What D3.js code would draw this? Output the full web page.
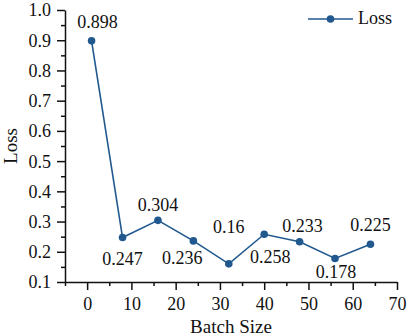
<!DOCTYPE html>
<html>
<head>
<meta charset="utf-8">
<script src="https://cdn.jsdelivr.net/npm/d3@7/dist/d3.min.js"></script>
<style>
  html, body { margin: 0; padding: 0; background: #fff; }
  svg { display: block; }
  text { font-family: "Liberation Serif", "Times New Roman", serif; fill: #111; }
</style>
</head>
<body>
<svg id="chart" width="408" height="336"></svg>
<script>
// ---- data ----
const batchSizes = [1, 8, 16, 24, 32, 40, 48, 56, 64];
const lossValues = [0.898, 0.247, 0.304, 0.236, 0.16, 0.258, 0.233, 0.178, 0.225];
const lossLabels = ["0.898", "0.247", "0.304", "0.236", "0.16", "0.258", "0.233", "0.178", "0.225"];
const xTickValues = [0, 10, 20, 30, 40, 50, 60, 70];
const yTickValues = [0.1, 0.2, 0.3, 0.4, 0.5, 0.6, 0.7, 0.8, 0.9, 1.0];
const seriesName = "Loss";
const xTitle = "Batch Size";
const yTitle = "Loss";

// ---- label placement (style, not data) ----
const labelDx = [6, 0, 0, -11, 0, 6, 3, 1, 0];
const labelDy = [-13, 27, -9, 23, -31, 29, -10, 20, -13];

const color = "#21598f";
const fontSize = 18;

const svg = d3.select("#chart");
const x = d3.scaleLinear().domain([-5, 70]).range([65, 397]);
const y = d3.scaleLinear().domain([0.1, 1.0]).range([282, 10]);

// minor ticks
const xMinor = d3.range(-5, 70, 10);
const yMinor = d3.range(0.15, 1.0, 0.1);

svg.append("g")
  .attr("transform", `translate(0,${y(0.1)})`)
  .call(d3.axisBottom(x).tickValues(xMinor).tickSize(4).tickFormat(""))
  .call(g => g.select(".domain").remove())
  .call(g => g.selectAll("line").attr("stroke", "#111").attr("stroke-width", 1.5));

svg.append("g")
  .attr("transform", `translate(${x(-5)},0)`)
  .call(d3.axisLeft(y).tickValues(yMinor).tickSize(4).tickFormat(""))
  .call(g => g.select(".domain").remove())
  .call(g => g.selectAll("line").attr("stroke", "#111").attr("stroke-width", 1.5));

svg.append("g")
  .attr("transform", `translate(0,${y(0.1)})`)
  .call(d3.axisBottom(x).tickValues(xTickValues).tickSize(8).tickSizeOuter(0).tickFormat(d3.format("d")))
  .call(g => g.select(".domain").attr("stroke", "#111").attr("stroke-width", 1.5))
  .call(g => g.selectAll("line").attr("stroke", "#111").attr("stroke-width", 1.5))
  .call(g => g.selectAll("text").attr("dy", null).attr("y", 28)
      .attr("font-family", "Liberation Serif").attr("font-size", fontSize).attr("fill", "#111"));

svg.append("g")
  .attr("transform", `translate(${x(-5)},0)`)
  .call(d3.axisLeft(y).tickValues(yTickValues).tickSize(8).tickSizeOuter(0).tickFormat(d3.format(".1f")))
  .call(g => g.select(".domain").attr("stroke", "#111").attr("stroke-width", 1.5))
  .call(g => g.selectAll("line").attr("stroke", "#111").attr("stroke-width", 1.5))
  .call(g => g.selectAll("text").attr("x", -14).attr("dy", "0.33em")
      .attr("font-family", "Liberation Serif").attr("font-size", fontSize).attr("fill", "#111"));

// titles
svg.append("text")
  .attr("x", (x(-5) + x(70)) / 2).attr("y", 333)
  .attr("text-anchor", "middle").attr("font-size", 19)
  .text(xTitle);
svg.append("text")
  .attr("transform", `translate(17,${(y(0.1) + y(1.0)) / 2}) rotate(-90)`)
  .attr("text-anchor", "middle").attr("font-size", 19)
  .text(yTitle);

// line
const pts = batchSizes.map((b, i) => ({ b, v: lossValues[i], label: lossLabels[i], i }));
svg.append("path")
  .datum(pts)
  .attr("fill", "none").attr("stroke", color).attr("stroke-width", 1.6)
  .attr("d", d3.line().x(d => x(d.b)).y(d => y(d.v)));

svg.selectAll("circle.pt").data(pts).enter().append("circle")
  .attr("class", "pt")
  .attr("cx", d => x(d.b)).attr("cy", d => y(d.v)).attr("r", 3.8)
  .attr("fill", color);

svg.selectAll("text.lbl").data(pts).enter().append("text")
  .attr("class", "lbl")
  .attr("x", d => x(d.b) + labelDx[d.i]).attr("y", d => y(d.v) + labelDy[d.i])
  .attr("text-anchor", "middle").attr("font-size", fontSize)
  .text(d => d.label);

// legend
const lg = svg.append("g").attr("transform", "translate(308,19)");
lg.append("line").attr("x1", 0).attr("x2", 45).attr("y1", 0).attr("y2", 0)
  .attr("stroke", color).attr("stroke-width", 1.6);
lg.append("circle").attr("cx", 22.5).attr("cy", 0).attr("r", 3.8).attr("fill", color);
lg.append("text").attr("x", 50).attr("y", 5).attr("font-size", fontSize).text(seriesName);
</script>
</body>
</html>
